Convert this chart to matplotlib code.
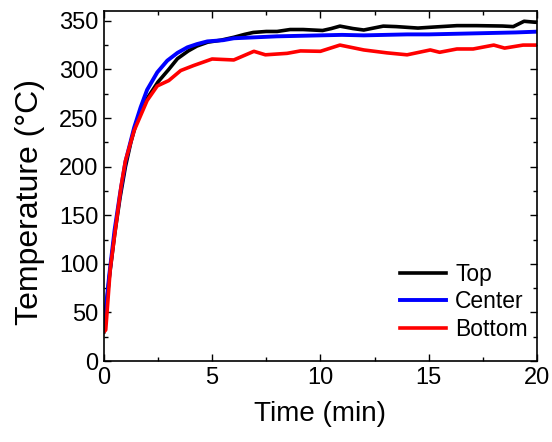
import matplotlib

matplotlib.use("Agg")
import matplotlib.pyplot as plt
from matplotlib.ticker import MultipleLocator

# Thermocouple readings during heat-up (time in min, temperature in degC)
time_top = [0.0, 0.25, 0.5, 0.75, 1.0, 1.25, 1.5, 1.75, 2.0, 2.5, 3.0, 3.4, 3.9, 4.3, 4.8,
            5.4, 6.0, 6.5, 6.9, 7.5, 8.0, 8.6, 9.2, 10.1, 10.5, 10.9, 11.5, 12.0, 12.9,
            13.5, 14.5, 15.2, 16.3, 17.2, 18.4, 18.9, 19.4, 19.9, 20.0]
temp_top = [30, 85, 130, 168, 200, 225, 245, 258, 270, 287, 300, 311, 319, 324, 328,
            330, 333, 336, 338, 339, 339, 341, 341, 340, 342, 344.5, 342, 340.5, 344.5,
            344, 342.5, 343.5, 345, 345, 344.6, 344, 349.5, 348.5, 348.5]

time_center = [0.0, 0.25, 0.5, 0.75, 1.0, 1.4, 1.7, 2.0, 2.47, 2.93, 3.4, 3.86, 4.3, 4.78,
               5.5, 6.0, 7.0, 8.0, 9.0, 10.0, 11.0, 12.0, 13.0, 14.0, 15.0, 16.0, 17.0,
               18.0, 19.0, 20.0]
temp_center = [32, 88, 135, 172, 205, 240, 261, 279, 297, 309, 317, 322.7, 326, 328.8,
               330, 332, 333, 334, 334.5, 335, 335.5, 335, 335.5, 336, 336, 336.5, 337,
               337.5, 338, 338.8]

time_bottom = [0.0, 0.09, 0.3, 0.55, 0.8, 1.0, 1.4, 2.0, 2.47, 3.0, 3.55, 4.15, 5.0, 6.0,
               6.93, 7.46, 8.46, 9.08, 10.0, 10.9, 12.0, 13.07, 14.0, 15.07, 15.5, 16.3,
               17.05, 18.0, 18.5, 19.35, 20.0]
temp_bottom = [30, 32, 95, 138, 180, 206, 237, 268, 283, 288.5, 298.8, 304, 310.7, 309.7,
               318.6, 315, 316.5, 319, 318.6, 325, 320, 317, 315, 320, 317.6, 321, 321,
               325, 321.9, 325, 325]

plt.rcParams["font.family"] = ["Liberation Sans", "DejaVu Sans"]

fig = plt.figure(figsize=(5.52, 4.42), dpi=100)
ax = fig.add_axes([0.188, 0.183, 0.785, 0.792])

ax.plot(time_top, temp_top, color="black", linewidth=2.6, label="Top")
ax.plot(time_center, temp_center, color="#0000ff", linewidth=2.8, label="Center")
ax.plot(time_bottom, temp_bottom, color="#ff0000", linewidth=2.6, label="Bottom")

ax.set_xlim(0, 20)
ax.set_ylim(0, 360)
ax.xaxis.set_major_locator(MultipleLocator(5))
ax.xaxis.set_minor_locator(MultipleLocator(2.5))
ax.yaxis.set_major_locator(MultipleLocator(50))
ax.yaxis.set_minor_locator(MultipleLocator(25))
ax.tick_params(which="both", direction="in", top=True, right=True, labelsize=17, width=1)
ax.tick_params(which="major", length=5, pad=4)
ax.tick_params(which="minor", length=3)
for spine in ax.spines.values():
    spine.set_linewidth(1.2)

ax.set_xlabel("Time (min)", fontsize=20, labelpad=9)
ax.set_ylabel("Temperature (°C)", fontsize=23)
ax.yaxis.set_label_coords(-0.135, 0.454)

ax.legend(loc="lower right", frameon=False, fontsize=16.5, handlelength=2.0,
          handletextpad=0.4, labelspacing=0.2, borderaxespad=0.3,
          bbox_to_anchor=(1.016, 0.012))

fig.savefig("out.png", dpi=100)
